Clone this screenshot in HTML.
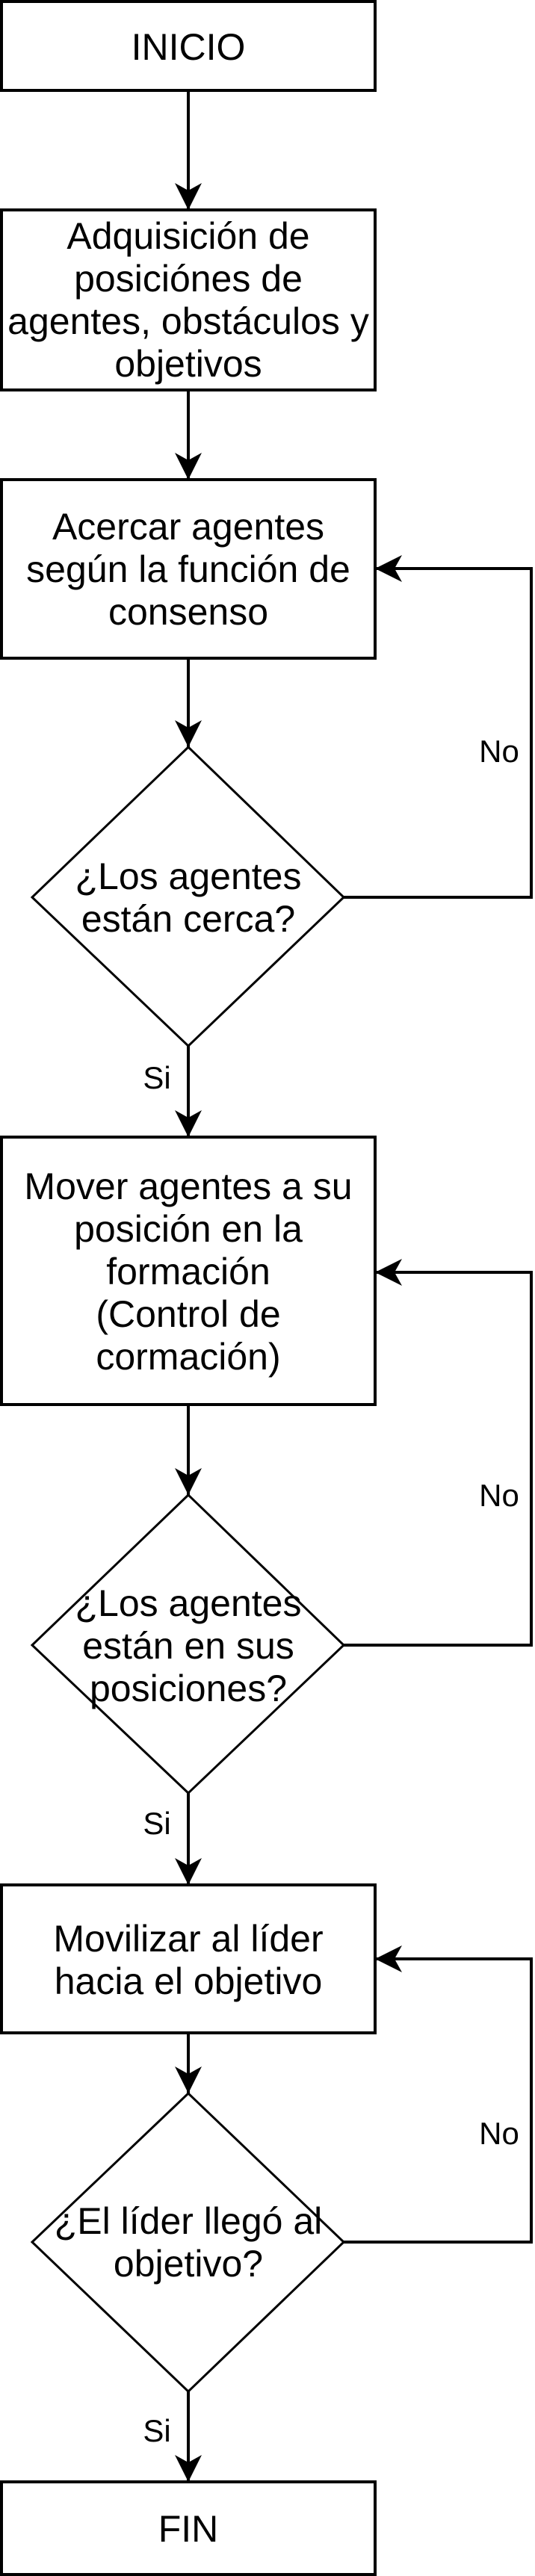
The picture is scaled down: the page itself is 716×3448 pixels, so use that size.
<!DOCTYPE html>
<html><head><meta charset="utf-8"><style>
html,body{margin:0;padding:0;background:#fff;}
svg{display:block;}
text{font-family:"Liberation Sans",Arial,sans-serif;fill:#000;}
</style></head><body>
<svg width="716" height="3448" viewBox="0 0 716 3448" xmlns="http://www.w3.org/2000/svg">
<defs>
<marker id="a" markerUnits="userSpaceOnUse" markerWidth="40" markerHeight="40" refX="36" refY="18" orient="auto">
<path d="M0,0 L36,18 L0,36 L10,18 Z" fill="#000"/>
</marker>
</defs>
<g fill="#fff" stroke="#000" stroke-width="4">
<rect x="2" y="2" width="500" height="119"/>
<rect x="2" y="281" width="500" height="241"/>
<rect x="2" y="642" width="500" height="239"/>
<rect x="2" y="1522" width="500" height="358"/>
<rect x="2" y="2523" width="500" height="198"/>
<rect x="2" y="3322" width="500" height="124"/>
</g>
<g fill="#fff" stroke="#000" stroke-width="3">
<polygon points="252,1000 460,1201 252,1400 43,1201"/>
<polygon points="252,2001 460,2202 252,2400 43,2202"/>
<polygon points="252,2802 460,3001 252,3201 43,3001"/>
</g>
<g fill="none" stroke="#000" stroke-width="4" marker-end="url(#a)">
<line x1="252" y1="121" x2="252" y2="281"/>
<line x1="252" y1="522" x2="252" y2="642"/>
<line x1="252" y1="881" x2="252" y2="1000"/>
<line x1="252" y1="1400" x2="252" y2="1522"/>
<line x1="252" y1="1880" x2="252" y2="2001"/>
<line x1="252" y1="2400" x2="252" y2="2523"/>
<line x1="252" y1="2721" x2="252" y2="2802"/>
<line x1="252" y1="3201" x2="252" y2="3322"/>
<polyline points="460,1201 711,1201 711,761 502,761"/>
<polyline points="460,2202 711,2202 711,1703 502,1703"/>
<polyline points="460,3001 711,3001 711,2622 502,2622"/>
</g>
<g font-size="50" text-anchor="middle">
<text x="252" y="80">INICIO</text>
<text x="252" y="333">Adquisición de</text>
<text x="252" y="390">posiciónes de</text>
<text x="252" y="447">agentes, obstáculos y</text>
<text x="252" y="504">objetivos</text>
<text x="252" y="722">Acercar agentes</text>
<text x="252" y="779">según la función de</text>
<text x="252" y="836">consenso</text>
<text x="252" y="1190">¿Los agentes</text>
<text x="252" y="1247">están cerca?</text>
<text x="252" y="1605">Mover agentes a su</text>
<text x="252" y="1662">posición en la</text>
<text x="252" y="1719">formación</text>
<text x="252" y="1776">(Control de</text>
<text x="252" y="1833">cormación)</text>
<text x="252" y="2163">¿Los agentes</text>
<text x="252" y="2220">están en sus</text>
<text x="252" y="2277">posiciones?</text>
<text x="252" y="2612">Movilizar al líder</text>
<text x="252" y="2669">hacia el objetivo</text>
<text x="252" y="2990">¿El líder llegó al</text>
<text x="252" y="3047">objetivo?</text>
<text x="252" y="3402">FIN</text>
</g>
<g font-size="42" text-anchor="middle">
<text x="668" y="1020">No</text>
<text x="668" y="2016">No</text>
<text x="668" y="2870">No</text>
<text x="210" y="1457">Si</text>
<text x="210" y="2455">Si</text>
<text x="210" y="3268">Si</text>
</g>
</svg>
</body></html>
